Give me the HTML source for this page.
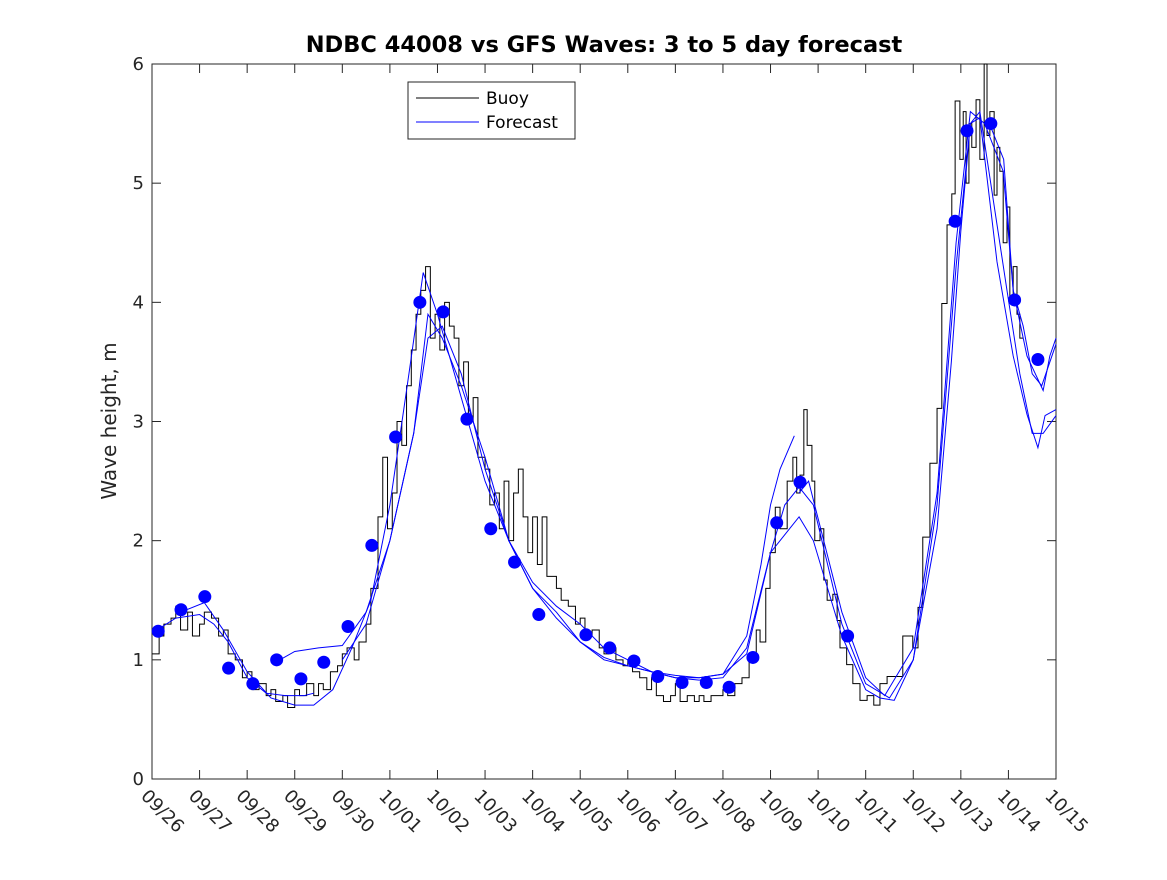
<!DOCTYPE html>
<html><head><meta charset="utf-8"><style>
body{margin:0;background:#fff;}
svg{font-family:"DejaVu Sans","Liberation Sans",sans-serif;}
</style></head><body>
<svg id="chart" width="1167" height="875" xmlns="http://www.w3.org/2000/svg">
<rect width="1167" height="875" fill="#fff"/>
<text x="604" y="52" text-anchor="middle" font-size="22.5" font-weight="bold">NDBC 44008 vs GFS Waves: 3 to 5 day forecast</text>
<text transform="translate(116,421) rotate(-90)" text-anchor="middle" font-size="20" fill="#262626">Wave height, m</text>
<g id="plot"></g>
</svg>
<script>
const xLabels=["09/26","09/27","09/28","09/29","09/30","10/01","10/02","10/03","10/04","10/05","10/06","10/07","10/08","10/09","10/10","10/11","10/12","10/13","10/14","10/15"];
const yTicks=[0,1,2,3,4,5,6];
const buoyDays=[0,0.15,0.25,0.4,0.5,0.6,0.75,0.85,1.0,1.1,1.25,1.4,1.5,1.6,1.75,1.9,2.0,2.1,2.25,2.4,2.5,2.6,2.75,2.85,3.0,3.1,3.25,3.4,3.5,3.6,3.75,3.9,4.0,4.1,4.25,4.35,4.5,4.6,4.75,4.85,4.95,5.05,5.15,5.25,5.35,5.45,5.55,5.65,5.75,5.85,5.95,6.05,6.15,6.25,6.35,6.45,6.55,6.65,6.75,6.85,7.0,7.1,7.2,7.3,7.4,7.5,7.6,7.7,7.8,7.9,8.0,8.1,8.2,8.3,8.4,8.5,8.6,8.75,8.9,9.0,9.1,9.25,9.4,9.5,9.6,9.75,9.9,10.0,10.1,10.25,10.4,10.5,10.6,10.75,10.9,11.0,11.1,11.25,11.4,11.5,11.6,11.75,11.9,12.0,12.1,12.25,12.4,12.55,12.7,12.78,12.9,12.99,13.1,13.2,13.35,13.47,13.55,13.62,13.7,13.77,13.87,13.93,14.04,14.12,14.19,14.31,14.4,14.46,14.6,14.73,14.88,15.03,15.17,15.3,15.45,15.78,15.99,16.1,16.2,16.35,16.5,16.6,16.71,16.81,16.88,16.98,17.05,17.11,17.17,17.23,17.32,17.4,17.49,17.55,17.61,17.7,17.76,17.82,17.89,17.97,18.03,18.1,18.18,18.24,18.31];
const buoyVals=[1.05,1.2,1.3,1.35,1.45,1.25,1.4,1.2,1.3,1.4,1.35,1.2,1.25,1.05,1.0,0.85,0.9,0.75,0.8,0.7,0.75,0.65,0.7,0.6,0.75,0.7,0.8,0.7,0.8,0.75,0.9,0.95,1.05,1.1,1.0,1.15,1.3,1.6,2.2,2.7,2.1,2.4,3.0,2.8,3.3,3.6,3.9,4.1,4.3,3.7,3.9,3.6,4.0,3.8,3.7,3.3,3.5,3.0,3.2,2.7,2.6,2.3,2.4,2.1,2.5,2.0,2.4,2.6,2.2,1.9,2.2,1.8,2.2,1.7,1.7,1.6,1.5,1.45,1.3,1.35,1.2,1.25,1.1,1.05,1.1,1.0,0.95,1.0,0.9,0.85,0.75,0.85,0.7,0.65,0.7,0.8,0.65,0.7,0.65,0.7,0.65,0.7,0.7,0.75,0.7,0.8,0.85,1.0,1.25,1.15,1.6,1.9,2.28,2.1,2.5,2.7,2.4,2.55,3.1,2.8,2.5,2.0,2.1,1.67,1.5,1.55,1.33,1.1,0.96,0.8,0.66,0.7,0.62,0.8,0.86,1.2,1.1,1.44,2.03,2.65,3.11,3.99,4.65,4.91,5.69,5.2,5.6,5.0,5.5,5.3,5.7,5.2,6.0,5.4,5.6,4.9,5.3,5.1,4.5,4.8,4.0,4.3,3.9,3.7];
const dotDays=[0.13,0.61,1.11,1.61,2.12,2.62,3.13,3.61,4.12,4.62,5.12,5.63,6.12,6.62,7.12,7.62,8.13,9.12,9.62,10.13,10.63,11.14,11.65,12.13,12.63,13.13,13.62,14.62,16.88,17.13,17.63,18.13,18.62];
const dotVals=[1.24,1.42,1.53,0.93,0.80,1.0,0.84,0.98,1.28,1.96,2.87,4.0,3.92,3.02,2.10,1.82,1.38,1.21,1.10,0.99,0.86,0.81,0.81,0.77,1.02,2.15,2.49,1.20,4.68,5.44,5.50,4.02,3.52];
const fcDays=[
 [0.1,0.5,1.0,1.3,1.6,2.0,2.4,2.8,3.2,3.4],
 [0.6,1.1,1.5,2.0,2.5,3.0,3.4,3.8,4.2,4.6,5.0,5.4,5.7,6.0,6.5,7.0,7.5,8.0,8.5,9.0,9.5,10.0,10.5,11.0,11.5,12.0,12.5,12.8,13.0,13.2,13.5],
 [2.6,3.0,3.5,4.0,4.5,5.0,5.5,5.8,6.1,6.5,7.0,7.5,8.0,8.5,9.0,9.5,10.0,10.5,11.0,11.5,12.0,12.5,13.0,13.3,13.6,13.9,14.5,15.0,15.5,16.0,16.5,16.8,17.0,17.2,17.4,17.76,18.1,18.39,18.62,18.77,19.0],
 [4.0,4.5,5.0,5.5,5.8,6.1,6.5,7.0,7.5,8.0,8.5,9.0,9.5,10.0,10.5,11.0,11.5,12.0,12.5,13.0,13.3,13.6,13.9,14.5,15.0,15.3,15.6,16.0,16.5,16.9,17.2,17.4,17.97,18.24,18.5,18.73,19.0],
 [13.6,13.8,14.5,15.0,15.4,16.0,16.5,16.9,17.2,17.5,17.89,18.1,18.39,18.73,18.87,19.0],
 [17.6,17.9,18.1,18.31,18.5,18.7,19.0]
];
const fcVals=[
 [1.25,1.35,1.38,1.3,1.15,0.85,0.72,0.7,0.7,0.72],
 [1.4,1.48,1.25,0.9,0.68,0.62,0.62,0.75,1.1,1.5,2.3,3.4,4.25,3.9,3.2,2.5,2.0,1.65,1.45,1.3,1.1,1.0,0.9,0.85,0.85,0.88,1.2,1.8,2.3,2.6,2.88],
 [0.98,1.07,1.1,1.12,1.4,2.0,2.9,3.9,3.7,3.3,2.7,2.0,1.6,1.4,1.15,1.0,0.95,0.9,0.85,0.83,0.85,1.1,1.9,2.3,2.45,2.3,1.3,0.8,0.68,1.0,2.1,3.5,4.6,5.5,5.55,4.34,3.55,3.06,2.78,3.05,3.1],
 [1.0,1.3,2.0,2.9,3.7,3.8,3.4,2.6,2.0,1.6,1.35,1.15,1.02,0.95,0.9,0.87,0.85,0.88,1.05,1.9,2.05,2.2,2.0,1.2,0.75,0.68,0.66,1.0,2.3,4.3,5.5,5.6,4.1,3.4,2.9,2.9,3.05],
 [2.4,2.5,1.4,0.85,0.7,1.1,2.4,4.5,5.6,5.5,5.1,4.1,3.55,3.26,3.55,3.7],
 [5.5,5.2,4.1,3.8,3.4,3.3,3.65]
];
const L=152,R=1056,T=64,B=779;
const xs=d=>L+d*(R-L)/19, ys=v=>B-v*(B-T)/6;
const g=document.getElementById('plot');
const NS='http://www.w3.org/2000/svg';
function mk(tag,at){const e=document.createElementNS(NS,tag);for(const k in at)e.setAttribute(k,at[k]);g.appendChild(e);return e;}
const box=mk('rect',{x:L,y:T,width:R-L,height:B-T,fill:'none',stroke:'#262626','stroke-width':1});


yTicks.forEach(v=>{
 const y=ys(v);
 mk('line',{x1:L,x2:L+9,y1:y,y2:y,stroke:'#262626'});
 mk('line',{x1:R-9,x2:R,y1:y,y2:y,stroke:'#262626'});
 const t=mk('text',{x:L-8,y:y+6,'text-anchor':'end','font-size':18,fill:'#262626'});t.textContent=v;
 
 
});
xLabels.forEach((lab,i)=>{
 const x=xs(i);
 mk('line',{x1:x,x2:x,y1:B,y2:B-9,stroke:'#262626'});
 mk('line',{x1:x,x2:x,y1:T,y2:T+9,stroke:'#262626'});
 const t=mk('text',{transform:`translate(${x-12},${B+18}) rotate(45)`,'font-size':18,fill:'#262626'});t.textContent=lab;
 
 
});
let d='';
buoyDays.forEach((day,i)=>{
 const x=xs(day),y=ys(buoyVals[i]);
 if(i===0)d+=`M${x},${y}`;else d+=`H${x}V${y}`;
});
const bp=mk('path',{d,fill:'none',stroke:'#000','stroke-width':1});


fcDays.forEach((arr,k)=>{
 const p=mk('polyline',{points:arr.map((day,i)=>xs(day)+','+ys(fcVals[k][i])).join(' '),fill:'none',stroke:'#0000ff','stroke-width':1});
 
 
});
dotDays.forEach((day,i)=>{
 const c=mk('circle',{cx:xs(day),cy:ys(dotVals[i]),r:6.5,fill:'#0000ff'});
 
 
});
const lg=mk('rect',{x:408,y:82,width:167,height:57,fill:'#fff',stroke:'#262626'});


mk('line',{x1:416,x2:479,y1:98,y2:98,stroke:'#000'});
mk('line',{x1:416,x2:479,y1:122,y2:122,stroke:'#0000ff'});
const t1=mk('text',{x:486,y:104,'font-size':17});t1.textContent='Buoy';


const t2=mk('text',{x:486,y:128,'font-size':17});t2.textContent='Forecast';


</script>
</body></html>
